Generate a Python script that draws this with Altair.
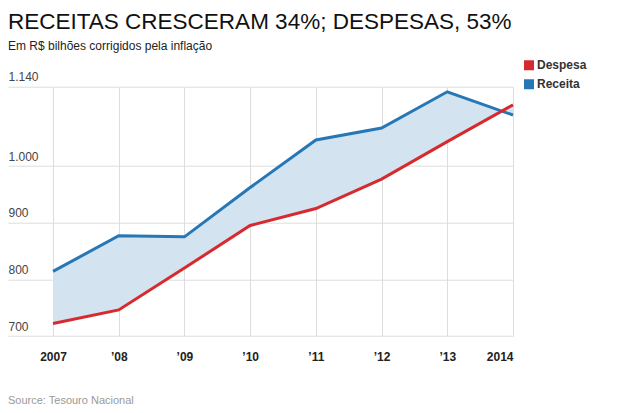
import altair as alt
import pandas as pd

years = [2007, 2008, 2009, 2010, 2011, 2012, 2013, 2014]
receita = [814, 877, 875, 962, 1046, 1067, 1131, 1090]
despesa = [722, 746, 820, 895, 925, 977, 1043, 1108]
series_names = ["Despesa", "Receita"]
series_colors = ["#d62a2e", "#2677b5"]
y_ticks = [700, 800, 900, 1000, 1140]

title_text = "RECEITAS CRESCERAM 34%; DESPESAS, 53%"
subtitle_text = "Em R$ bilhões corrigidos pela inflação"
source_text = "Source: Tesouro Nacional"

FONT = "Liberation Sans"

wide = pd.DataFrame({"ano": years, "Receita": receita, "Despesa": despesa})
long = wide.melt("ano", var_name="serie", value_name="valor")

W, H = 505, 249.3
x_scale = alt.Scale(domain=[2006.315, 2014], nice=False, zero=False)
y_scale = alt.Scale(domain=[700, 1140], nice=False, zero=False)

x_axis = alt.Axis(
    values=years, grid=True, gridColor="#dddddd", gridWidth=1,
    domain=False, ticks=False, tickSize=0,
    labelExpr="(datum.value == 2007 || datum.value == 2014) ? (datum.value + '') : ('\u2019' + substring(datum.value + '', 2, 4))",
    labelFont=FONT, labelFontSize=12, labelFontWeight="bold", labelColor="#222222",
    labelPadding=15, title=None,
)
y_axis = alt.Axis(
    values=y_ticks, grid=True, gridColor="#dddddd", gridWidth=1,
    domain=False, ticks=False, tickSize=0,
    labelExpr="replace(format(datum.value, ','), ',', '.')",
    labelFont=FONT, labelFontSize=12, labelColor="#444444",
    labelAlign="left", labelBaseline="alphabetic", labelPadding=0, labelOffset=-6,
    title=None,
)

base = alt.Chart(wide)

area = base.mark_area(color="#d3e3f0", opacity=1).encode(
    x=alt.X("ano:Q", scale=x_scale, axis=x_axis),
    y=alt.Y("Receita:Q", scale=y_scale, axis=y_axis),
    y2="Despesa:Q",
)

lines = alt.Chart(long).mark_line(strokeWidth=3).encode(
    x=alt.X("ano:Q", scale=x_scale),
    y=alt.Y("valor:Q", scale=y_scale),
    color=alt.Color(
        "serie:N",
        scale=alt.Scale(domain=series_names, range=series_colors),
        legend=alt.Legend(
            orient="none", legendX=515, legendY=-28, title=None,
            symbolType="square", symbolSize=25, symbolStrokeWidth=5,
            labelFont=FONT, labelFontSize=12, labelFontWeight="bold",
            labelColor="#333333", labelOffset=2, rowPadding=6, clipHeight=13,
        ),
    ),
)

def text_layer(txt, x, y, size, color, weight="normal"):
    return alt.Chart(pd.DataFrame({"t": [txt]})).mark_text(
        align="left", baseline="alphabetic", font=FONT, fontSize=size,
        color=color, fontWeight=weight,
    ).encode(x=alt.value(x), y=alt.value(y), text="t:N")

title = text_layer(title_text, 0, -57.5, 22.5, "#111111")
subtitle = text_layer(subtitle_text, 0, -36.2, 12, "#222222")
source = text_layer(source_text, 0, 317.6, 11, "#999999")

chart = alt.layer(area, lines, title, subtitle, source).properties(
    width=W, height=H,
    autosize=alt.AutoSizeParams(type="none"),
    padding={"left": 0, "top": 78.7, "right": 95, "bottom": 75},
).configure_view(stroke=None)

chart.save("out.html", embed_options={"renderer": "svg", "actions": False})
